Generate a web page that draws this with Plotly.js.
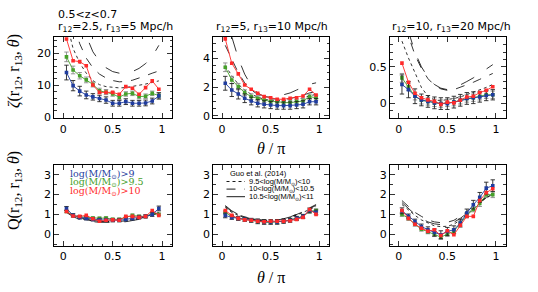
<!DOCTYPE html>
<html><head><meta charset="utf-8">
<script src="https://cdn.plot.ly/plotly-3.0.1.min.js"></script>
<style>html,body{margin:0;padding:0;background:#fff}#g{width:538px;height:292px}</style>
</head><body><div id="g"></div>
<script>
// ---- data ----
const theta = [0.033,0.1,0.167,0.233,0.3,0.367,0.433,0.5,0.567,0.633,0.7,0.767,0.833,0.9,0.967];

// top-left zeta, r12=2.5, r13=5
const zl_blue  = [14.0,9.9,8.2,7.0,6.4,5.9,5.4,4.4,4.4,4.9,4.4,4.4,4.5,5.1,6.7];
const zl_green = [18.9,14.8,13.0,11.7,10.3,8.3,7.9,7.3,6.3,7.3,7.5,6.5,6.6,7.5,6.8];
const zl_red   = [24.5,17.7,17.4,16.1,10.1,7.8,7.8,7.8,7.2,9.6,9.1,7.2,9.3,11.4,8.8];
const zl_err_b = [2.3,1.6,1.5,1.2,1.0,1.0,1.0,0.9,0.9,0.9,0.9,0.9,0.9,0.9,1.0];
const zl_err_g = [1.5,1.2,1.0,0.9,0.8,0.8,0.8,0.7,0.7,0.7,0.7,0.7,0.7,0.7,0.8];
const zl_m1 = [30,21.5,17,13.8,11.5,10.2,9.6,9.3,9.2,9.3,9.6,10.0,10.4,10.9,11.4];
const zl_m2 = [40,30,23,18.5,15.5,13.5,12.3,11.5,11.1,11.2,11.6,12.2,13.0,13.8,14.5];
const zl_m3 = [60,45,33,25.5,20.5,17.5,15.5,14.3,13.8,13.8,14.3,15.3,16.8,19.0,22.5];

// top-middle zeta, r12=5, r13=10
const zm_blue  = [2.27,1.8,1.53,1.23,1.04,0.88,0.81,0.76,0.72,0.72,0.72,0.76,0.81,0.99,0.99];
const zm_green = [3.38,2.5,2.04,1.62,1.34,1.23,1.11,1.0,1.0,0.93,0.93,1.0,1.04,1.34,1.27];
const zm_red   = [5.35,3.66,2.92,2.15,1.85,1.58,1.34,1.27,1.16,1.16,1.23,1.27,1.39,1.85,1.46];
const zm_err_b = [0.48,0.45,0.35,0.3,0.27,0.25,0.25,0.25,0.25,0.25,0.25,0.25,0.25,0.22,0.22];
const zm_err_g = [0.3,0.25,0.22,0.2,0.2,0.18,0.18,0.18,0.18,0.18,0.18,0.18,0.18,0.18,0.18];
const zm_m1 = [3.5,2.8,2.2,1.8,1.5,1.3,1.15,1.1,1.05,1.05,1.1,1.15,1.25,1.4,1.5];
const zm_m2 = [4.9,3.9,3.0,2.3,1.8,1.5,1.3,1.2,1.15,1.15,1.2,1.3,1.45,1.6,1.7];
const zm_m3 = [7.5,5.5,4.0,2.9,2.1,1.6,1.35,1.3,1.35,1.45,1.6,1.8,2.0,2.2,2.3];

// top-right zeta, r12=10, r13=20
const zr_blue  = [0.26,0.19,0.10,0.05,0.03,0.01,0.0,0.0,0.02,0.045,0.07,0.08,0.09,0.11,0.12];
const zr_green = [0.35,0.23,0.10,0.045,0.03,0.01,0.0,0.01,0.02,0.045,0.07,0.08,0.10,0.12,0.12];
const zr_red   = [0.55,0.29,0.14,0.08,0.05,0.03,-0.01,0.02,0.01,0.045,0.09,0.10,0.15,0.18,0.23];
const zr_err_b = [0.13,0.11,0.1,0.08,0.08,0.08,0.08,0.08,0.08,0.08,0.08,0.08,0.07,0.07,0.07];
const zr_err_g = [0.06,0.05,0.05,0.05,0.05,0.05,0.05,0.05,0.05,0.05,0.05,0.05,0.05,0.05,0.05];
const zr_m1 = [0.85,0.62,0.42,0.22,0.1,0.05,0.04,0.05,0.07,0.09,0.12,0.15,0.18,0.22,0.26];
const zr_m2 = [1.3,0.92,0.66,0.48,0.34,0.25,0.2,0.18,0.19,0.22,0.25,0.29,0.33,0.37,0.41];
const zr_m3 = [1.4,0.98,0.7,0.5,0.36,0.26,0.21,0.19,0.21,0.25,0.3,0.35,0.41,0.47,0.53];

// bottom-left Q
const ql_blue  = [1.3,0.95,0.85,0.8,0.75,0.72,0.72,0.7,0.7,0.75,0.8,0.85,0.9,1.0,1.3];
const ql_green = [1.15,0.95,0.88,0.85,0.82,0.8,0.82,0.75,0.75,0.85,0.95,0.9,0.9,1.05,1.0];
const ql_red   = [1.15,0.92,0.9,0.95,0.78,0.65,0.7,0.72,0.7,0.9,0.9,0.85,0.9,1.2,0.95];
const ql_err_b = [0.1,0.08,0.08,0.08,0.08,0.08,0.08,0.08,0.08,0.08,0.08,0.08,0.08,0.1,0.12];
const ql_err_g = [0.06,0.06,0.06,0.06,0.06,0.06,0.06,0.06,0.06,0.06,0.06,0.06,0.06,0.06,0.06];
const ql_m1 = [1.2,0.95,0.82,0.74,0.69,0.66,0.64,0.64,0.66,0.69,0.74,0.8,0.88,0.98,1.12];
const ql_m2 = [1.15,0.92,0.8,0.72,0.67,0.64,0.62,0.62,0.64,0.67,0.72,0.78,0.86,0.96,1.1];
const ql_m3 = [1.1,0.88,0.75,0.68,0.63,0.6,0.59,0.59,0.6,0.63,0.68,0.75,0.84,0.95,1.08];

// bottom-middle Q
const qm_blue  = [0.95,0.85,0.8,0.75,0.7,0.65,0.62,0.62,0.62,0.65,0.7,0.8,0.9,1.2,1.1];
const qm_green = [1.1,0.9,0.8,0.75,0.7,0.65,0.6,0.6,0.62,0.65,0.72,0.8,0.9,1.15,1.2];
const qm_red   = [1.2,0.95,0.8,0.72,0.7,0.65,0.63,0.65,0.65,0.65,0.68,0.75,0.85,1.25,1.0];
const qm_err_b = [0.12,0.1,0.1,0.1,0.1,0.12,0.12,0.12,0.12,0.1,0.1,0.1,0.1,0.12,0.12];
const qm_err_g = [0.08,0.08,0.08,0.08,0.08,0.08,0.08,0.08,0.08,0.08,0.08,0.08,0.08,0.08,0.08];
const qm_m1 = [1.35,1.1,0.95,0.83,0.75,0.7,0.67,0.67,0.7,0.75,0.83,0.95,1.1,1.25,1.4];
const qm_m2 = [1.4,1.15,0.98,0.86,0.77,0.72,0.69,0.69,0.72,0.77,0.86,0.98,1.13,1.3,1.45];
const qm_m3 = [1.45,1.18,1.0,0.87,0.78,0.72,0.69,0.69,0.72,0.78,0.87,1.0,1.15,1.33,1.5];

// bottom-right Q
const qr_blue  = [1.18,0.9,0.64,0.39,0.22,0.08,-0.03,0.14,0.22,0.56,1.07,1.49,1.86,2.33,2.45];
const qr_green = [1.0,0.8,0.5,0.25,0.12,0.0,-0.15,0.0,0.15,0.55,0.95,1.25,1.55,2.0,2.0];
const qr_red   = [1.2,0.8,0.5,0.3,0.15,0.22,-0.07,0.17,-0.03,0.45,0.9,0.9,1.7,2.1,2.3];
const qr_err_b = [0.15,0.12,0.12,0.12,0.15,0.18,0.2,0.2,0.2,0.2,0.2,0.22,0.25,0.3,0.3];
const qr_err_g = [0.1,0.1,0.1,0.1,0.1,0.12,0.12,0.12,0.12,0.12,0.12,0.12,0.15,0.15,0.15];
const qr_m1 = [1.5,1.2,0.95,0.72,0.55,0.42,0.38,0.4,0.5,0.72,1.0,1.3,1.6,1.85,2.05];
const qr_m2 = [1.7,1.4,1.1,0.9,0.72,0.62,0.58,0.6,0.7,0.9,1.15,1.4,1.65,1.85,2.0];
const qr_m3 = [1.6,1.3,1.0,0.8,0.62,0.52,0.48,0.5,0.6,0.8,1.05,1.35,1.6,1.85,2.0];

const legendMass = ['log(M/M<sub>⊙</sub>)&gt;9','log(M/M<sub>⊙</sub>)&gt;9.5','log(M/M<sub>⊙</sub>)&gt;10'];
const legendModel = ['9.5&lt;log(M/M<sub>⊙</sub>)&lt;10','10&lt;log(M/M<sub>⊙</sub>)&lt;10.5','10.5&lt;log(M/M<sub>⊙</sub>)&lt;11'];

// ---- styling ----
const W = 538, H = 292;
const C_BLUE = '#1f3c9e', C_GREEN = '#46a02a', C_RED = '#ff2a2a';
const px = v => v / W, py = v => 1 - v / H;

const panels = [
  {d:[zl_blue,zl_green,zl_red,zl_err_b,zl_err_g,zl_m1,zl_m2,zl_m3], x:[54.3,172], y:[36.7,118.3], yr:[-0.3,25.2], dt:10, mdt:2},
  {d:[zm_blue,zm_green,zm_red,zm_err_b,zm_err_g,zm_m1,zm_m2,zm_m3], x:[213.3,329], y:[36.7,118.3], yr:[-0.16,5.5], dt:2, mdt:0.5},
  {d:[zr_blue,zr_green,zr_red,zr_err_b,zr_err_g,zr_m1,zr_m2,zr_m3], x:[390,505.7], y:[36.7,118.3], yr:[-0.2,0.91], dt:0.5, mdt:0.1},
  {d:[ql_blue,ql_green,ql_red,ql_err_b,ql_err_g,ql_m1,ql_m2,ql_m3], x:[54.3,172], y:[165,246], yr:[-0.6,3.5], dt:1, mdt:0.5},
  {d:[qm_blue,qm_green,qm_red,qm_err_b,qm_err_g,qm_m1,qm_m2,qm_m3], x:[213.3,329], y:[165,246], yr:[-0.6,3.5], dt:1, mdt:0.5},
  {d:[qr_blue,qr_green,qr_red,qr_err_b,qr_err_g,qr_m1,qr_m2,qr_m3], x:[390,505.7], y:[165,246], yr:[-0.6,3.5], dt:1, mdt:0.5}
];

const traces = [];
const layout = {
  width: W, height: H, margin:{l:0,r:0,t:0,b:0}, showlegend:false,
  paper_bgcolor:'#fff', plot_bgcolor:'#fff', annotations:[], shapes:[]
};
const tickfont = {family:'DejaVu Sans', size:11, color:'#000'};
function axis(extra){
  return Object.assign({
    showgrid:false, zeroline:false, showline:true, linecolor:'#000', linewidth:1,
    mirror:'allticks', ticks:'inside', ticklen:5, tickwidth:0.8, tickcolor:'#000',
    tickfont:tickfont, fixedrange:true
  }, extra);
}
panels.forEach((p,i)=>{
  const n = i===0 ? '' : String(i+1);
  const xa = 'x'+n, ya = 'y'+n;
  layout['xaxis'+n] = axis({domain:[px(p.x[0]),px(p.x[1])], range:[-0.09,1.1], anchor:ya,
    tick0:0, dtick:0.5, minor:{dtick:0.1, ticklen:2.5, ticks:'inside', tickcolor:'#000', tickwidth:0.8}});
  layout['yaxis'+n] = axis({domain:[py(p.y[1]),py(p.y[0])], range:p.yr, anchor:xa,
    tick0:0, dtick:p.dt, minor:{dtick:p.mdt, ticklen:2.5, ticks:'inside', tickcolor:'#000', tickwidth:0.8}});
  const [b,g,r,eb,eg,m1,m2,m3] = p.d;
  [[m1,'dot'],[m2,'dash'],[m3,'longdash']].forEach(([m,dash])=>{
    traces.push({x:theta, y:m, xaxis:xa, yaxis:ya, mode:'lines', line:{color:'#000', width:0.8, dash:dash}, hoverinfo:'skip'});
  });
  traces.push({x:theta, y:g, xaxis:xa, yaxis:ya, mode:'lines+markers', line:{color:C_GREEN,width:0.9},
    marker:{symbol:'square', size:3.6, color:C_GREEN},
    error_y:{type:'data', array:eg, color:'#8a8a8a', thickness:0.9, width:2.2}});
  traces.push({x:theta, y:b, xaxis:xa, yaxis:ya, mode:'lines+markers', line:{color:C_BLUE,width:0.9},
    marker:{symbol:'square', size:3.6, color:C_BLUE},
    error_y:{type:'data', array:eb, color:'#222', thickness:0.9, width:2.2}});
  traces.push({x:theta, y:r, xaxis:xa, yaxis:ya, mode:'lines+markers', line:{color:C_RED,width:0.9},
    marker:{symbol:'square', size:3.6, color:C_RED}});
});

function ann(text, x, y, o){
  layout.annotations.push(Object.assign({text:text, xref:'paper', yref:'paper', x:px(x), y:py(y),
    showarrow:false, xanchor:'left', yanchor:'middle', font:{family:'DejaVu Sans', size:11, color:'#000'}}, o||{}));
}
// panel titles
ann('0.5&lt;z&lt;0.7', 56, 15);
ann('r<sub>12</sub>=2.5, r<sub>13</sub>=5 Mpc/h', 56, 27);
ann('r<sub>12</sub>=5, r<sub>13</sub>=10 Mpc/h', 271.5, 27, {xanchor:'center'});
ann('r<sub>12</sub>=10, r<sub>13</sub>=20 Mpc/h', 451.5, 27, {xanchor:'center'});
// axis titles
const serifBig = {family:'Liberation Serif', size:16, color:'#000'};
ann('<i>ζ</i>(r<sub>12</sub>, r<sub>13</sub>, <i>θ</i>)', 15, 71, {xanchor:'center', textangle:-90, font:serifBig});
ann('Q(r<sub>12</sub>, r<sub>13</sub>, <i>θ</i>)', 15, 191, {xanchor:'center', textangle:-90, font:serifBig});
ann('<i>θ</i> / π', 271, 148, {xanchor:'center', font:serifBig});
ann('<i>θ</i> / π', 271, 277, {xanchor:'center', font:serifBig});
// mass legend (bottom-left)
const massCols = [C_BLUE, C_GREEN, C_RED];
legendMass.forEach((t,k)=>{
  ann(t, 68, 174.5 + k*8.4, {font:{family:'DejaVu Serif', size:9.5, color:massCols[k]}});
});
// model legend (bottom-middle)
ann('Guo et al. (2014)', 227.5, 173.5, {font:{family:'Liberation Sans', size:7.5, color:'#000'}});
const dashes = ['dot','dash','solid'];
legendModel.forEach((t,k)=>{
  const yy = 181.5 + k*7.6;
  layout.shapes.push({type:'line', xref:'paper', yref:'paper', x0:px(226.5), x1:px(245), y0:py(yy), y1:py(yy),
    line:{color:'#000', width:0.9, dash:dashes[k]}});
  ann(t, 246.5, yy, {font:{family:'Liberation Sans', size:7.5, color:'#000'}});
});

Plotly.newPlot('g', traces, layout, {displayModeBar:false, staticPlot:true});
</script></body></html>
